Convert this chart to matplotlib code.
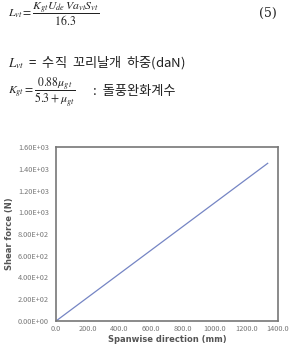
import matplotlib
matplotlib.use('Agg')
import matplotlib.pyplot as plt
from matplotlib.ticker import FuncFormatter

plt.rcParams['font.family'] = ['Noto Sans CJK KR', 'DejaVu Sans']
plt.rcParams['mathtext.fontset'] = 'stix'

# data
span = [0.0, 1335.0]
shear = [0.0, 1450.0]
xticks = [0, 200, 400, 600, 800, 1000, 1200, 1400]
yticks = [0, 200, 400, 600, 800, 1000, 1200, 1400, 1600]

W, H = 289, 346
fig = plt.figure(figsize=(W / 100, H / 100), dpi=100)

# equation block above the chart
fig.text(8 / W, 1 - 14 / H,
         r'$L_{vt}=\dfrac{K_{gt}U_{de}\,Va_{vt}S_{vt}}{16.3}$',
         fontsize=8.5, va='center', ha='left', color='#222222')
fig.text(277 / W, 1 - 13 / H, '(5)', fontsize=9, va='center', ha='right',
         color='#222222', family=['DejaVu Serif'])
fig.text(8 / W, 1 - 63 / H, r'$L_{vt}$  =  수직  꼬리날개  하중(daN)',
         fontsize=9.5, va='center', ha='left', color='#222222')
fig.text(8 / W, 1 - 92 / H,
         r'$K_{gt}=\dfrac{0.88\mu_{gt}}{5.3+\mu_{gt}}$',
         fontsize=8.5, va='center', ha='left', color='#222222')
fig.text(93 / W, 1 - 91 / H, ':  돌풍완화계수',
         fontsize=9.5, va='center', ha='left', color='#222222')

# chart
ax = fig.add_axes([56 / W, 1 - 321 / H, 222 / W, 174 / H])
ax.plot(span, shear, color='#7585C4', linewidth=0.9)
ax.set_xlim(0, 1400)
ax.set_ylim(0, 1600)
ax.set_xticks(xticks)
ax.set_yticks(yticks)
ax.xaxis.set_major_formatter(FuncFormatter(lambda v, p: f'{v:.1f}'))
ax.yaxis.set_major_formatter(FuncFormatter(lambda v, p: f'{v:.2E}'))
ax.tick_params(length=0, labelsize=5.3, labelcolor='#777777')
ax.tick_params(axis='x', pad=3)
ax.tick_params(axis='y', pad=5)
for s in ax.spines.values():
    s.set_color('#777777')
    s.set_linewidth(1.2)

ax.set_xlabel('Spanwise direction (mm)', fontsize=6, fontweight='bold',
              color='#555555', family=['DejaVu Sans'], labelpad=1.5)
ax.set_ylabel('Shear force (N)', fontsize=6, fontweight='bold',
              color='#555555', family=['DejaVu Sans'], labelpad=3)

fig.savefig('out.png', dpi=100)
